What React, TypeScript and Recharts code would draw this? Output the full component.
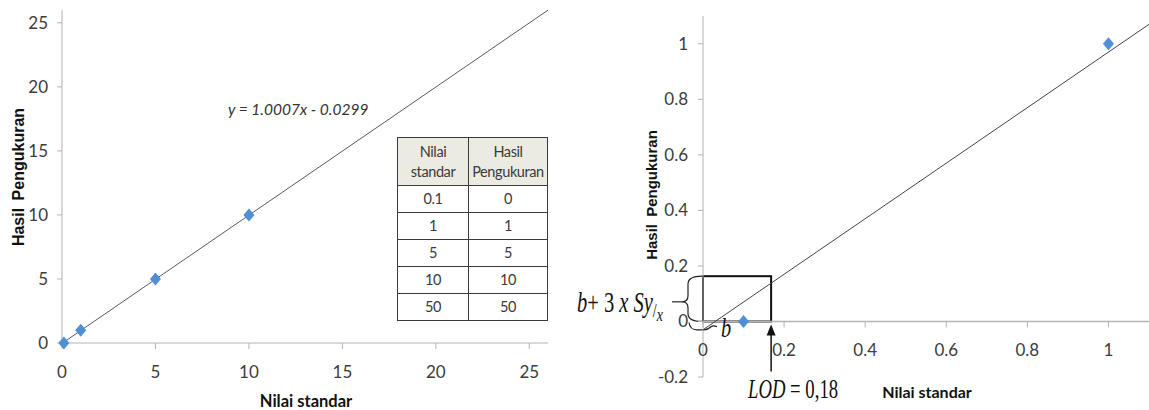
import React from 'react';
import {
  ScatterChart,
  Scatter,
  XAxis,
  YAxis,
  ReferenceArea,
  ReferenceLine,
  ReferenceDot,
} from 'recharts';

// ---------- data ----------
const calibX = [0.1, 1, 5, 10];
const calibY = [0, 1, 5, 10];
const tableStd = ['0.1', '1', '5', '10', '50'];
const tableHasil = ['0', '1', '5', '10', '50'];
const leftTicks = [0, 5, 10, 15, 20, 25];
const leftDomain = [0, 26];
const trendLeftX = [0.03, 26];
const trendLeftY = [0, 25.99];
const equationText = 'y = 1.0007x - 0.0299';

const zoomX = [0.1, 1];
const zoomY = [0, 1];
const rightXTicks = [0, 0.2, 0.4, 0.6, 0.8, 1];
const rightYTicks = [-0.2, 0, 0.2, 0.4, 0.6, 0.8, 1];
const rightXDomain = [0, 1.1];
const rightYDomain = [-0.2, 1.1];
const trendRightX = [0, 1.1];
const trendRightY = [-0.03, 1.07];
const lodX = 0.168;
const lodLevel = 0.163;
const interceptB = -0.03;
const arrowFrom = -0.18;

const calibPoints = calibX.map((x, i) => ({ x, y: calibY[i] }));
const trendLeft = trendLeftX.map((x, i) => ({ x, y: trendLeftY[i] }));
const zoomPoints = zoomX.map((x, i) => ({ x, y: zoomY[i] }));
const trendRight = trendRightX.map((x, i) => ({ x, y: trendRightY[i] }));

// ---------- styles ----------
const BLUE = '#4f8fd6';
const AXIS = '#b4b4b4';
const TICK_TEXT = '#3c3c3c';
const SANS = 'Lato, "Open Sans", sans-serif';
const SERIF = '"Liberation Serif", "DejaVu Serif", serif';

const RIGHT_H = 410;
const RIGHT_TOP = 16;
const RIGHT_XAXIS_H = 33;
const RIGHT_PLOT_H = RIGHT_H - RIGHT_TOP - RIGHT_XAXIS_H;
const ZERO_OFFSET =
  (RIGHT_PLOT_H * (0 - rightYDomain[0])) / (rightYDomain[1] - rightYDomain[0]);

const Diamond = (props: any) => {
  const { cx, cy } = props;
  if (cx == null || cy == null) return <g />;
  return (
    <polygon
      points={`${cx},${cy - 6.5} ${cx + 5.5},${cy} ${cx},${cy + 6.5} ${cx - 5.5},${cy}`}
      fill={BLUE}
    />
  );
};

const NoShape = () => <g />;

const RightXTick = (props: any) => {
  const { x, y, payload } = props;
  const ay = y - ZERO_OFFSET;
  return (
    <g>
      <line x1={x} x2={x} y1={ay} y2={ay + 6} stroke={AXIS} />
      <text
        x={x}
        y={ay + 28}
        textAnchor="middle"
        dominantBaseline="central"
        fill={TICK_TEXT}
        fontSize={17}
        fontFamily={SANS}
      >
        {payload.value}
      </text>
    </g>
  );
};

const BoxWithBrace = (p: any) => {
  const { x, y, width, height } = p;
  const bx = x - 15;
  const top = y;
  const bot = y + height;
  const mid = (top + bot) / 2 + 3;
  const d = `M ${x - 1} ${top} Q ${bx} ${top} ${bx} ${top + 8} L ${bx} ${mid - 6} Q ${bx} ${mid} ${bx - 6} ${mid} Q ${bx} ${mid} ${bx} ${mid + 6} L ${bx} ${bot - 8} Q ${bx} ${bot} ${x - 1} ${bot}`;
  return (
    <g>
      <rect x={x} y={y} width={width} height={height} fill="none" stroke="#111" strokeWidth={2} />
      <path d={d} fill="none" stroke="#222" strokeWidth={1.2} />
      <line x1={bx - 6} y1={mid} x2={bx - 16} y2={mid} stroke="#222" strokeWidth={1.2} />
    </g>
  );
};

const SmallBrace = (p: any) => {
  const { x, y, height } = p;
  const top = y;
  const bot = y + height;
  const d = `M ${x - 14} ${top + 1} Q ${x - 13} ${bot} ${x - 6} ${bot} L ${x + 1} ${bot} Q ${x + 5} ${bot} ${x + 8} ${bot - 3} Q ${x + 10} ${bot - 5} ${x + 14} ${bot - 3}`;
  return <path d={d} fill="none" stroke="#222" strokeWidth={1.2} />;
};

const ArrowHead = (p: any) => {
  const { cx, cy } = p;
  if (cx == null || cy == null) return <g />;
  return <polygon points={`${cx},${cy + 3} ${cx - 4.5},${cy + 14} ${cx + 4.5},${cy + 14}`} fill="#111" />;
};

const cellStyle: React.CSSProperties = {
  border: '1.5px solid #3a3a3a',
  textAlign: 'center',
  padding: 0,
  color: '#3a3a3a',
  fontSize: 14.5,
  letterSpacing: -0.4,
  lineHeight: '20px',
};

export default function App() {
  return (
    <div
      style={{
        position: 'absolute',
        left: 0,
        top: 0,
        width: 1149,
        height: 410,
        background: '#fff',
        overflow: 'hidden',
      }}
    >
      {/* Left chart */}
      <div style={{ position: 'absolute', left: 0, top: 0 }}>
        <ScatterChart width={560} height={410} margin={{ top: 10, right: 12, left: 0, bottom: 0 }}>
          <XAxis
            type="number"
            dataKey="x"
            domain={leftDomain}
            ticks={leftTicks}
            interval={0}
            height={67}
            stroke={AXIS}
            tickSize={6}
            tickMargin={17}
            tick={{ fill: TICK_TEXT, fontSize: 17, fontFamily: SANS }}
          />
          <YAxis
            type="number"
            dataKey="y"
            domain={leftDomain}
            ticks={leftTicks}
            interval={0}
            width={62}
            stroke={AXIS}
            tickSize={5}
            tickMargin={9}
            tick={{ fill: TICK_TEXT, fontSize: 17, fontFamily: SANS }}
          />
          <Scatter
            data={trendLeft}
            line={{ stroke: '#5a5a5a', strokeWidth: 1 }}
            shape={NoShape}
            isAnimationActive={false}
          />
          <Scatter data={calibPoints} shape={Diamond} isAnimationActive={false} />
        </ScatterChart>
      </div>

      {/* Right chart */}
      <div style={{ position: 'absolute', left: 580, top: 0 }}>
        <ScatterChart width={569} height={RIGHT_H} margin={{ top: RIGHT_TOP, right: 0, left: 0, bottom: 0 }}>
          <XAxis
            type="number"
            dataKey="x"
            domain={rightXDomain}
            ticks={rightXTicks}
            interval={0}
            allowDataOverflow
            height={RIGHT_XAXIS_H}
            axisLine={false}
            tickLine={false}
            tickSize={0}
            tickMargin={0}
            tick={<RightXTick />}
          />
          <YAxis
            type="number"
            dataKey="y"
            domain={rightYDomain}
            ticks={rightYTicks}
            interval={0}
            allowDataOverflow
            width={123}
            stroke={AXIS}
            tickSize={5}
            tickMargin={10}
            tick={{ fill: TICK_TEXT, fontSize: 17, fontFamily: SANS }}
          />
          <ReferenceLine y={0} stroke={AXIS} strokeWidth={1.5} />
          <Scatter
            data={trendRight}
            line={{ stroke: '#444', strokeWidth: 1 }}
            shape={NoShape}
            isAnimationActive={false}
          />
          <ReferenceArea
            x1={0}
            x2={lodX}
            y1={0}
            y2={lodLevel}
            ifOverflow="visible"
            shape={BoxWithBrace}
          />
          <ReferenceArea
            x1={0}
            x2={lodX}
            y1={interceptB}
            y2={0}
            ifOverflow="visible"
            shape={SmallBrace}
          />
          <ReferenceLine
            segment={[
              { x: lodX, y: arrowFrom },
              { x: lodX, y: -0.035 },
            ]}
            stroke="#111"
            strokeWidth={1.5}
          />
          <ReferenceDot x={lodX} y={0} r={5} ifOverflow="visible" shape={ArrowHead} />
          <Scatter data={zoomPoints} shape={Diamond} isAnimationActive={false} />
        </ScatterChart>
      </div>

      {/* Table inside left chart */}
      <table
        style={{
          position: 'absolute',
          left: 397,
          top: 137,
          width: 151,
          borderCollapse: 'collapse',
          fontFamily: '"Liberation Sans Narrow", "Arial Narrow", Lato, sans-serif',
          background: '#fff',
        }}
      >
        <tbody>
          <tr style={{ height: 48, background: '#ecebe1' }}>
            <td style={{ ...cellStyle, width: 70 }}>
              Nilai
              <br />
              standar
            </td>
            <td style={cellStyle}>
              Hasil
              <br />
              Pengukuran
            </td>
          </tr>
          {tableStd.map((s, i) => (
            <tr key={s} style={{ height: 27 }}>
              <td style={cellStyle}>{s}</td>
              <td style={cellStyle}>{tableHasil[i]}</td>
            </tr>
          ))}
        </tbody>
      </table>

      {/* Text overlay */}
      <svg
        width={1149}
        height={410}
        style={{ position: 'absolute', left: 0, top: 0, pointerEvents: 'none' }}
      >
        <text
          transform="translate(18,177) rotate(-90)"
          textAnchor="middle"
          dominantBaseline="central"
          fontFamily='"Liberation Sans", Arial, sans-serif'
          fontWeight="bold"
          fontSize={16}
          wordSpacing={3}
          fill="#111"
        >
          Hasil Pengukuran
        </text>
        <text
          x={306}
          y={401}
          textAnchor="middle"
          dominantBaseline="central"
          fontFamily={SANS}
          fontWeight="bold"
          fontSize={16.5}
          fill="#111"
        >
          Nilai standar
        </text>
        <text
          x={228}
          y={115}
          fontFamily={SANS}
          fontStyle="italic"
          fontSize={15.5}
          fill="#333"
        >
          {equationText}
        </text>

        <text
          transform="translate(651,195) rotate(-90)"
          textAnchor="middle"
          dominantBaseline="central"
          fontFamily='"Liberation Sans", Arial, sans-serif'
          fontWeight="bold"
          fontSize={15}
          wordSpacing={3}
          fill="#111"
        >
          Hasil Pengukuran
        </text>
        <text
          x={927}
          y={391}
          textAnchor="middle"
          dominantBaseline="central"
          fontFamily={SANS}
          fontWeight="bold"
          fontSize={16}
          fill="#111"
        >
          Nilai standar
        </text>

        <text
          transform="translate(577,312) scale(0.82,1.15)"
          fontFamily={SERIF}
          fontSize={25}
          fill="#111"
          style={{ whiteSpace: 'pre' }}
        >
          <tspan fontStyle="italic">b</tspan>
          <tspan>{'+ 3 '}</tspan>
          <tspan fontStyle="italic">{'x '}</tspan>
          <tspan fontStyle="italic">Sy</tspan>
          <tspan fontSize={17} dy={4}>/</tspan>
          <tspan fontSize={17} fontStyle="italic" dy={4}>x</tspan>
        </text>
        <text
          transform="translate(721,337) scale(0.85,1.15)"
          fontFamily={SERIF}
          fontSize={24}
          fontStyle="italic"
          fill="#111"
        >
          b
        </text>
        <text
          transform="translate(748,398) scale(0.78,1.12)"
          fontFamily={SERIF}
          fontSize={24}
          fill="#111"
          style={{ whiteSpace: 'pre' }}
        >
          <tspan fontStyle="italic">LOD</tspan>
          <tspan>{' = 0,18'}</tspan>
        </text>
      </svg>
    </div>
  );
}
